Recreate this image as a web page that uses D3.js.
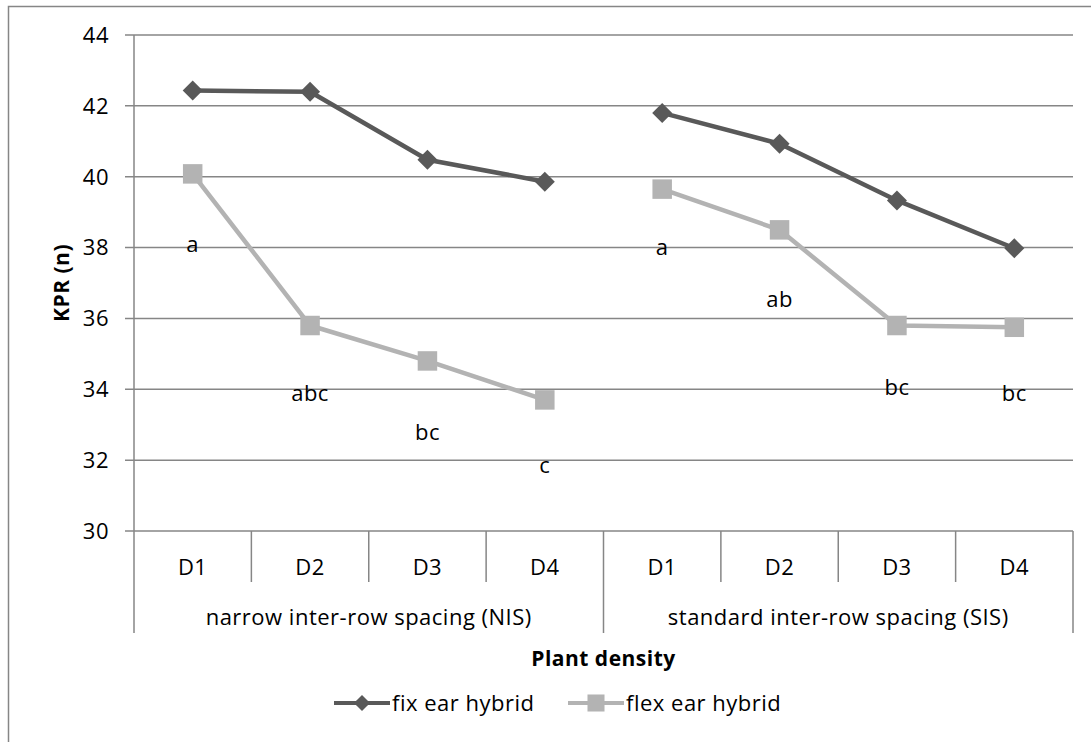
<!DOCTYPE html>
<html>
<head>
<meta charset="utf-8">
<script src="https://cdn.jsdelivr.net/npm/d3@7"></script>
<style>
body{margin:0;background:#fff;}
text{font-family:"Open Sans",Lato,sans-serif;fill:#000;letter-spacing:0.5px;}
</style>
</head>
<body>
<svg id="chart" width="1091" height="742"></svg>
<script>
const groups = ["narrow inter-row spacing (NIS)", "standard inter-row spacing (SIS)"];
const densities = ["D1", "D2", "D3", "D4"];
const fixEar = [42.43, 42.40, 40.48, 39.86, 41.80, 40.93, 39.33, 37.98];
const flexEar = [40.08, 35.80, 34.80, 33.70, 39.65, 38.50, 35.80, 35.75];
const letters = ["a", "abc", "bc", "c", "a", "ab", "bc", "bc"];
const letterValues = [38.1, 33.9, 32.8, 31.85, 38.0, 36.55, 34.05, 33.9];
const yTicks = [30, 32, 34, 36, 38, 40, 42, 44];
const seriesNames = ["fix ear hybrid", "flex ear hybrid"];

const svg = d3.select("#chart");
const W = 1091, H = 742;
const pLeft = 134, pRight = 1073, pTop = 35, pBottom = 531;
const fixColor = "#595959", flexColor = "#b3b3b3", gridColor = "#868686";
const FS = "22px";

// outer border
svg.append("path").attr("d", `M8.5,${H} V6.5 H${W}`).attr("fill","none").attr("stroke",gridColor).attr("stroke-width",1.5);

const cats = [];
groups.forEach((g,gi)=>densities.forEach((d,di)=>cats.push({g,gi,d,i:gi*4+di})));

const x = d3.scaleBand().domain(cats.map(c=>c.i)).range([pLeft,pRight]).padding(0);
const y = d3.scaleLinear().domain([30,44]).range([pBottom,pTop]);

// gridlines
svg.append("g").selectAll("line").data(yTicks).join("line")
  .attr("x1",pLeft-9).attr("x2",pRight).attr("y1",d=>y(d)).attr("y2",d=>y(d))
  .attr("stroke",gridColor).attr("stroke-width",1.5);

// y axis labels
svg.append("g").selectAll("text").data(yTicks).join("text")
  .attr("x",109).attr("y",d=>y(d)).attr("dy","0.36em").attr("text-anchor","end")
  .style("font-size",FS).text(d=>d);

// left axis line
svg.append("line").attr("x1",pLeft).attr("x2",pLeft).attr("y1",pTop).attr("y2",633)
  .attr("stroke",gridColor).attr("stroke-width",1.5);

// category dividers
const divs = d3.range(1,8).filter(i=>i!==4);
svg.append("g").selectAll("line").data(divs).join("line")
  .attr("x1",i=>x(i)).attr("x2",i=>x(i)).attr("y1",pBottom).attr("y2",582)
  .attr("stroke",gridColor).attr("stroke-width",1.5);
svg.append("g").selectAll("line").data([4,8]).join("line")
  .attr("x1",i=>i===8?pRight:x(i)).attr("x2",i=>i===8?pRight:x(i)).attr("y1",pBottom).attr("y2",633)
  .attr("stroke",gridColor).attr("stroke-width",1.5);

// category labels
svg.append("g").selectAll("text").data(cats).join("text")
  .attr("x",c=>x(c.i)+x.bandwidth()/2).attr("y",567).attr("dy","0.36em")
  .attr("text-anchor","middle").style("font-size",FS).text(c=>c.d);

// group labels
svg.append("g").selectAll("text").data(groups).join("text")
  .attr("x",(g,gi)=>(x(gi*4)+ (gi===1?pRight:x(4)))/2).attr("y",617).attr("dy","0.36em")
  .attr("text-anchor","middle").style("font-size",FS).text(g=>g);

// axis titles
svg.append("text").attr("transform",`translate(61,${(pTop+pBottom)/2}) rotate(-90)`)
  .attr("text-anchor","middle").attr("dy","0.36em").style("font-size","21px").style("font-weight","bold").text("KPR (n)");
svg.append("text").attr("x",(pLeft+pRight)/2).attr("y",658).attr("dy","0.36em")
  .attr("text-anchor","middle").style("font-size","21px").style("font-weight","bold").text("Plant density");

const cx = i=>x(i)+x.bandwidth()/2;
const line = d3.line().x(d=>cx(d.i)).y(d=>y(d.v));

const markerPath = (shape, big) => shape==="diamond"
  ? d3.symbol().type(d3.symbolSquare).size(big?200:130)()
  : d3.symbol().type(d3.symbolSquare).size(big?380:290)();
const markerRot = shape => shape==="diamond" ? " rotate(45)" : "";

function drawSeries(vals,color,shape,w){
  const segs = [0,1].map(g=>vals.slice(g*4,g*4+4).map((v,k)=>({i:g*4+k,v})));
  segs.forEach(s=>{
    svg.append("path").datum(s).attr("d",line).attr("fill","none").attr("stroke",color).attr("stroke-width",w).attr("stroke-linejoin","round");
  });
  svg.append("g").selectAll("path").data(segs.flat()).join("path")
    .attr("transform",d=>`translate(${cx(d.i)},${y(d.v)})${markerRot(shape)}`)
    .attr("d",markerPath(shape,true))
    .attr("fill",color);
}
drawSeries(fixEar,fixColor,"diamond",4.5);
drawSeries(flexEar,flexColor,"square",4.5);

// letter labels
svg.append("g").selectAll("text").data(letters).join("text")
  .attr("x",(t,i)=>cx(i)).attr("y",(t,i)=>y(letterValues[i])).attr("dy","0.36em")
  .attr("text-anchor","middle").style("font-size",FS).text(t=>t);

// legend
const legend = [{name:seriesNames[0],color:fixColor,shape:"diamond",x0:334},{name:seriesNames[1],color:flexColor,shape:"square",x0:568}];
const lg = svg.append("g");
legend.forEach(l=>{
  lg.append("line").attr("x1",l.x0).attr("x2",l.x0+56).attr("y1",703).attr("y2",703).attr("stroke",l.color).attr("stroke-width",4);
  lg.append("path").attr("transform",`translate(${l.x0+28},703)${markerRot(l.shape)}`).attr("d",markerPath(l.shape,false)).attr("fill",l.color);
  lg.append("text").attr("x",l.x0+58).attr("y",703).attr("dy","0.36em").style("font-size",FS).text(l.name);
});
</script>
</body>
</html>
